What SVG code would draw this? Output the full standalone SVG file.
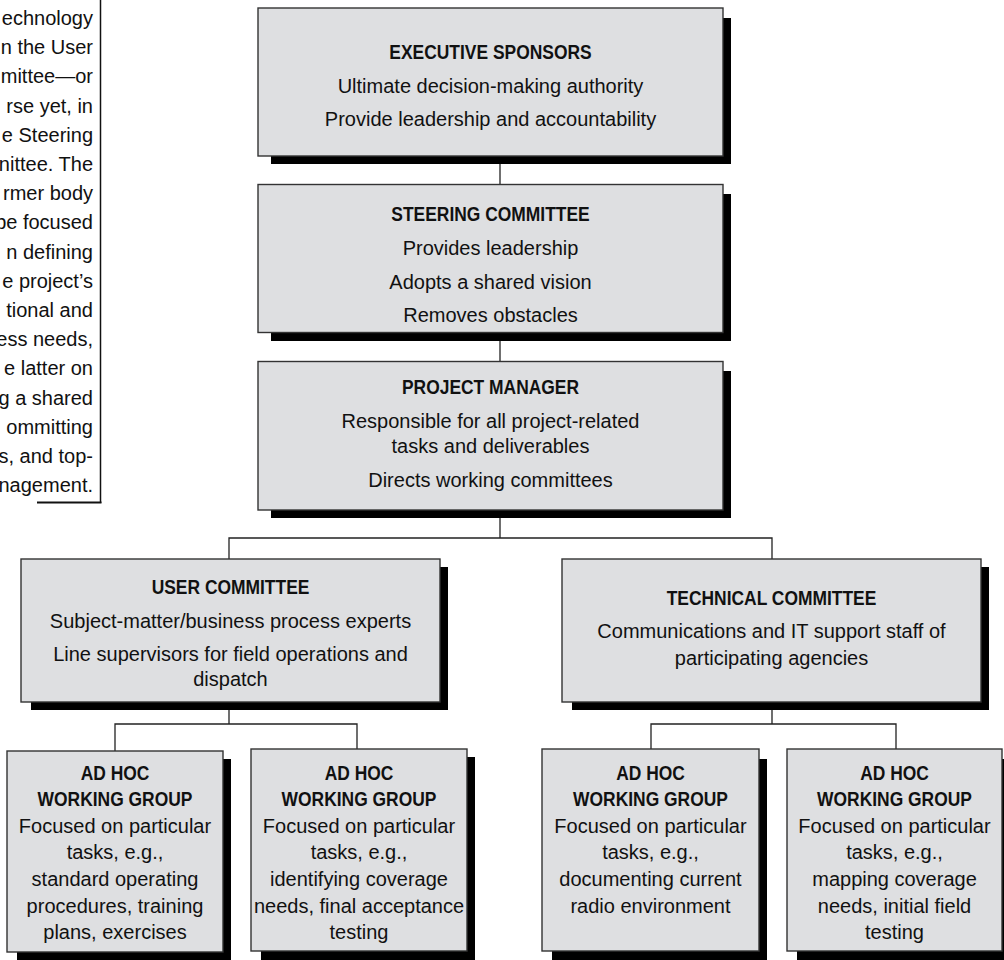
<svg xmlns="http://www.w3.org/2000/svg" width="1004" height="960" viewBox="0 0 1004 960">
<style>
.box{fill:#dedfe1;stroke:#333;stroke-width:1.4}
.sh{fill:#000}
.t{font-family:"Liberation Sans",Arial,sans-serif;font-weight:bold;font-size:21px;fill:#111;text-anchor:middle}
.b{font-family:"Liberation Sans",Arial,sans-serif;font-size:20px;fill:#111;text-anchor:middle}
.side{font-family:"Liberation Sans",Arial,sans-serif;font-size:20px;fill:#111;text-anchor:end}
.c{fill:none;stroke:#222;stroke-width:1.3}
</style>
<g id="sidebar">
<line x1="100.5" y1="0" x2="100.5" y2="503" stroke="#111" stroke-width="1.5"/>
<line x1="37" y1="502.5" x2="101.5" y2="502.5" stroke="#111" stroke-width="2.2"/>
<text class="side" x="93" y="25">echnology</text>
<text class="side" x="93" y="54.2">n the User</text>
<text class="side" x="93" y="83.4">mittee—or</text>
<text class="side" x="93" y="112.6">rse yet, in</text>
<text class="side" x="93" y="141.8">e Steering</text>
<text class="side" x="93" y="171">nittee. The</text>
<text class="side" x="93" y="200.2">rmer body</text>
<text class="side" x="93" y="229.4">be focused</text>
<text class="side" x="93" y="258.6">n defining</text>
<text class="side" x="93" y="287.8">e project’s</text>
<text class="side" x="93" y="317">tional and</text>
<text class="side" x="93" y="346.2">ess needs,</text>
<text class="side" x="93" y="375.4">e latter on</text>
<text class="side" x="93" y="404.6">g a shared</text>
<text class="side" x="93" y="433.8">ommitting</text>
<text class="side" x="93" y="463">s, and top-</text>
<text class="side" x="93" y="492.2">nagement.</text>
</g>
<g id="connectors">
<path class="c" d="M500 164V185"/>
<path class="c" d="M500 341V362"/>
<path class="c" d="M500 518V538M229 559V538H772V559"/>
<path class="c" d="M229 710V724M115 751V724H357V749"/>
<path class="c" d="M772 710V724M651 749V724H896V749"/>
</g>
<g id="executive">
<rect class="sh" x="271" y="18" width="460" height="146"/>
<rect class="box" x="258" y="8" width="465" height="148"/>
<text class="t" transform="translate(490.5 59) scale(0.83 1)">EXECUTIVE SPONSORS</text>
<text class="b" x="490.5" y="93">Ultimate decision-making authority</text>
<text class="b" x="490.5" y="126">Provide leadership and accountability</text>
</g>
<g id="steering">
<rect class="sh" x="271" y="194" width="460" height="147"/>
<rect class="box" x="258" y="184.5" width="465" height="148"/>
<text class="t" transform="translate(490.5 221) scale(0.83 1)">STEERING COMMITTEE</text>
<text class="b" x="490.5" y="255">Provides leadership</text>
<text class="b" x="490.5" y="289">Adopts a shared vision</text>
<text class="b" x="490.5" y="322">Removes obstacles</text>
</g>
<g id="pm">
<rect class="sh" x="271" y="371" width="460" height="147"/>
<rect class="box" x="258" y="361.5" width="465" height="148.5"/>
<text class="t" transform="translate(490.5 394) scale(0.83 1)">PROJECT MANAGER</text>
<text class="b" x="490.5" y="428">Responsible for all project-related</text>
<text class="b" x="490.5" y="453">tasks and deliverables</text>
<text class="b" x="490.5" y="487">Directs working committees</text>
</g>
<g id="user">
<rect class="sh" x="31" y="567" width="417" height="143"/>
<rect class="box" x="21" y="559" width="419" height="143"/>
<text class="t" transform="translate(230.5 594) scale(0.83 1)">USER COMMITTEE</text>
<text class="b" x="230.5" y="628">Subject-matter/business process experts</text>
<text class="b" x="230.5" y="661">Line supervisors for field operations and</text>
<text class="b" x="230.5" y="686">dispatch</text>
</g>
<g id="technical">
<rect class="sh" x="572" y="567" width="417" height="143"/>
<rect class="box" x="562" y="559" width="419" height="143"/>
<text class="t" transform="translate(771.5 605) scale(0.83 1)">TECHNICAL COMMITTEE</text>
<text class="b" x="771.5" y="638">Communications and IT support staff of</text>
<text class="b" x="771.5" y="665">participating agencies</text>
</g>
<g id="adhoc1">
<rect class="sh" x="17" y="759" width="214" height="201"/>
<rect class="box" x="7" y="751" width="216" height="201"/>
<text class="t" transform="translate(115 780) scale(0.83 1)">AD HOC</text>
<text class="t" transform="translate(115 806) scale(0.83 1)">WORKING GROUP</text>
<text class="b" x="115" y="833">Focused on particular</text>
<text class="b" x="115" y="859">tasks, e.g.,</text>
<text class="b" x="115" y="886">standard operating</text>
<text class="b" x="115" y="913">procedures, training</text>
<text class="b" x="115" y="939">plans, exercises</text>
</g>
<g id="adhoc2">
<rect class="sh" x="261" y="757" width="214" height="203"/>
<rect class="box" x="251" y="749" width="216" height="202"/>
<text class="t" transform="translate(359 780) scale(0.83 1)">AD HOC</text>
<text class="t" transform="translate(359 806) scale(0.83 1)">WORKING GROUP</text>
<text class="b" x="359" y="833">Focused on particular</text>
<text class="b" x="359" y="859">tasks, e.g.,</text>
<text class="b" x="359" y="886">identifying coverage</text>
<text class="b" x="359" y="913">needs, final acceptance</text>
<text class="b" x="359" y="939">testing</text>
</g>
<g id="adhoc3">
<rect class="sh" x="552" y="759" width="215" height="201"/>
<rect class="box" x="542" y="749" width="217" height="202"/>
<text class="t" transform="translate(650.5 780) scale(0.83 1)">AD HOC</text>
<text class="t" transform="translate(650.5 806) scale(0.83 1)">WORKING GROUP</text>
<text class="b" x="650.5" y="833">Focused on particular</text>
<text class="b" x="650.5" y="859">tasks, e.g.,</text>
<text class="b" x="650.5" y="886">documenting current</text>
<text class="b" x="650.5" y="913">radio environment</text>
</g>
<g id="adhoc4">
<rect class="sh" x="797" y="759" width="215" height="201"/>
<rect class="box" x="787" y="749" width="215" height="202"/>
<text class="t" transform="translate(894.5 780) scale(0.83 1)">AD HOC</text>
<text class="t" transform="translate(894.5 806) scale(0.83 1)">WORKING GROUP</text>
<text class="b" x="894.5" y="833">Focused on particular</text>
<text class="b" x="894.5" y="859">tasks, e.g.,</text>
<text class="b" x="894.5" y="886">mapping coverage</text>
<text class="b" x="894.5" y="913">needs, initial field</text>
<text class="b" x="894.5" y="939">testing</text>
</g>
</svg>
